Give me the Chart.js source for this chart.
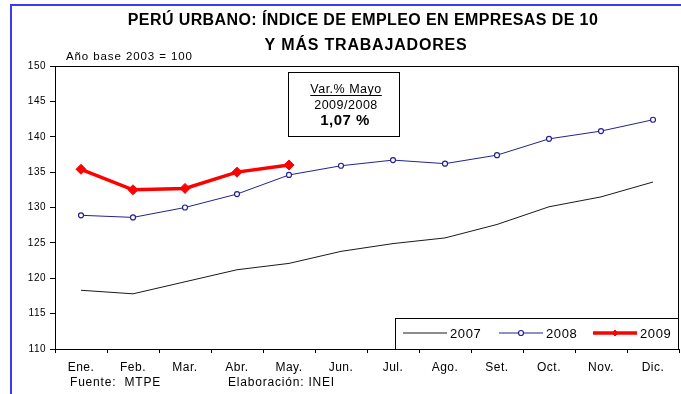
<!DOCTYPE html>
<html>
<head>
<meta charset="utf-8">
<script src="https://cdn.jsdelivr.net/npm/chart.js@4"></script>
<style>
  html, body { margin: 0; padding: 0; background: #fff; }
  canvas { display: block; }
</style>
</head>
<body>
<canvas id="empleo" width="681" height="394"></canvas>
<script>
const months = ['Ene.', 'Feb.', 'Mar.', 'Abr.', 'May.', 'Jun.', 'Jul.', 'Ago.', 'Set.', 'Oct.', 'Nov.', 'Dic.'];
const idx2007 = [118.3, 117.8, 119.5, 121.2, 122.1, 123.8, 124.9, 125.7, 127.6, 130.1, 131.5, 133.6];
const idx2008 = [128.9, 128.6, 130.0, 131.9, 134.6, 135.9, 136.7, 136.2, 137.4, 139.7, 140.8, 142.4];
const idx2009 = [135.4, 132.5, 132.7, 135.0, 136.0];
const yTicks = [110, 115, 120, 125, 130, 135, 140, 145, 150];
const varMayo = '1,07 %';

const FONT = '"Liberation Sans", Arial, sans-serif';

// frame, titles, boxes and footer drawn around the chart area
const decor = {
  id: 'decor',
  beforeDraw(chart) {
    const ctx = chart.ctx;
    ctx.fillStyle = '#fff';
    ctx.fillRect(0, 0, chart.width, chart.height);
    // the labels are slightly spaced out
    ctx.letterSpacing = '0.5px';
  },
  afterDraw(chart) {
    const ctx = chart.ctx;
    const a = chart.chartArea;
    ctx.save();

    // blue page frame
    ctx.strokeStyle = '#3a3af2';
    ctx.lineWidth = 2;
    ctx.beginPath();
    ctx.moveTo(11, chart.height);
    ctx.lineTo(11, 5);
    ctx.lineTo(chart.width, 5);
    ctx.stroke();

    // plot border
    ctx.strokeStyle = '#000';
    ctx.lineWidth = 1;
    ctx.strokeRect(a.left + 0.5, a.top + 0.5, a.right - a.left - 1, a.bottom - a.top);

    // title
    ctx.fillStyle = '#000';
    ctx.textAlign = 'center';
    ctx.textBaseline = 'alphabetic';
    ctx.letterSpacing = '0.4px';
    ctx.font = 'bold 16px ' + FONT;
    ctx.fillText('PERÚ URBANO: ÍNDICE DE EMPLEO EN EMPRESAS DE 10', 363, 25);
    ctx.letterSpacing = '0.8px';
    ctx.fillText('Y MÁS TRABAJADORES', 366, 50);

    ctx.textAlign = 'left';
    ctx.letterSpacing = '0.9px';
    ctx.font = '11.5px ' + FONT;
    ctx.fillText('Año base 2003 = 100', 66, 60);

    // variation box
    ctx.strokeRect(288.5, 72.5, 111, 64);
    ctx.textAlign = 'center';
    ctx.letterSpacing = '0.5px';
    ctx.font = '12.5px ' + FONT;
    ctx.fillText('Var.% Mayo', 346, 93);
    const w = ctx.measureText('Var.% Mayo').width;
    ctx.fillRect(346 - w / 2, 95, w, 1);
    ctx.fillText('2009/2008', 346, 109);
    ctx.font = 'bold 15px ' + FONT;
    ctx.fillText(varMayo, 345, 125);

    // legend box
    const lx = 395, ly = 318;
    ctx.fillStyle = '#fff';
    ctx.fillRect(lx, ly, a.right - lx, a.bottom - ly);
    ctx.strokeStyle = '#000';
    ctx.lineWidth = 1;
    ctx.strokeRect(lx + 0.5, ly + 0.5, a.right - lx - 1, a.bottom - ly);
    const entries = [
      { x: 403, ds: chart.data.datasets[0] },
      { x: 499, ds: chart.data.datasets[1] },
      { x: 593, ds: chart.data.datasets[2] }
    ];
    const cy = ly + 15;
    ctx.font = '13px ' + FONT;
    ctx.letterSpacing = '0.6px';
    ctx.textAlign = 'left';
    ctx.textBaseline = 'middle';
    entries.forEach(e => {
      ctx.strokeStyle = e.ds.borderColor;
      ctx.lineWidth = e.ds.borderWidth;
      ctx.beginPath();
      ctx.moveTo(e.x, cy);
      ctx.lineTo(e.x + 44, cy);
      ctx.stroke();
      if (e.ds.pointRadius > 0) {
        const px = e.x + 22;
        const r = e.ds.pointStyle === 'circle' ? e.ds.pointRadius : 3;
        ctx.fillStyle = e.ds.pointBackgroundColor;
        ctx.strokeStyle = e.ds.borderColor;
        ctx.lineWidth = e.ds.pointBorderWidth;
        ctx.beginPath();
        if (e.ds.pointStyle === 'circle') {
          ctx.arc(px, cy, r, 0, Math.PI * 2);
        } else {
          ctx.moveTo(px, cy - r);
          ctx.lineTo(px + r, cy);
          ctx.lineTo(px, cy + r);
          ctx.lineTo(px - r, cy);
          ctx.closePath();
        }
        ctx.fill();
        ctx.stroke();
      }
      ctx.fillStyle = '#000';
      ctx.fillText(e.ds.label, e.x + 47, cy + 1);
    });

    // footer
    ctx.textBaseline = 'alphabetic';
    ctx.font = '12px ' + FONT;
    ctx.letterSpacing = '0.8px';
    ctx.fillText('Fuente:  MTPE', 70, 386);
    ctx.fillText('Elaboración: INEI', 228, 386);

    ctx.restore();
  }
};

new Chart(document.getElementById('empleo'), {
  type: 'line',
  data: {
    labels: months,
    datasets: [
      {
        label: '2007',
        data: idx2007,
        borderColor: '#1a1a1a',
        borderWidth: 1,
        pointRadius: 0,
        tension: 0
      },
      {
        label: '2008',
        data: idx2008,
        borderColor: '#23238e',
        borderWidth: 1,
        pointStyle: 'circle',
        pointRadius: 2.5,
        pointBorderWidth: 1.2,
        pointBackgroundColor: '#fff',
        pointBorderColor: '#23238e',
        tension: 0
      },
      {
        label: '2009',
        data: idx2009,
        borderColor: '#ff0000',
        borderWidth: 3.5,
        pointStyle: 'rectRot',
        pointRadius: 5,
        pointBorderWidth: 1,
        pointBackgroundColor: '#ff0000',
        pointBorderColor: '#ff0000',
        tension: 0
      }
    ]
  },
  options: {
    responsive: false,
    animation: false,
    layout: { autoPadding: false, padding: { left: 0, top: 66, right: 2, bottom: 0 } },
    plugins: {
      legend: { display: false },
      tooltip: { enabled: false }
    },
    scales: {
      x: {
        offset: true,
        afterFit(scale) {
          scale.height = 45;
          scale.paddingLeft = 0;
          scale.paddingRight = 0;
        },
        border: { display: true, color: '#000', width: 1 },
        grid: {
          display: true,
          offset: true,
          drawOnChartArea: false,
          drawTicks: true,
          tickLength: 4,
          tickColor: '#000'
        },
        ticks: {
          color: '#000',
          font: { family: FONT, size: 12 },
          padding: 7,
          maxRotation: 0,
          autoSkip: false
        }
      },
      y: {
        min: 110,
        max: 150,
        afterFit(scale) {
          scale.width = 55;
          scale.paddingTop = 0;
          scale.paddingBottom = 0;
        },
        afterBuildTicks(scale) { scale.ticks = yTicks.map(v => ({ value: v })); },
        border: { display: true, color: '#000', width: 1 },
        grid: {
          display: true,
          drawOnChartArea: false,
          drawTicks: true,
          tickLength: 5,
          tickColor: '#000'
        },
        ticks: {
          color: '#000',
          font: { family: FONT, size: 10 },
          padding: 4
        }
      }
    }
  },
  plugins: [decor]
});
</script>
</body>
</html>
